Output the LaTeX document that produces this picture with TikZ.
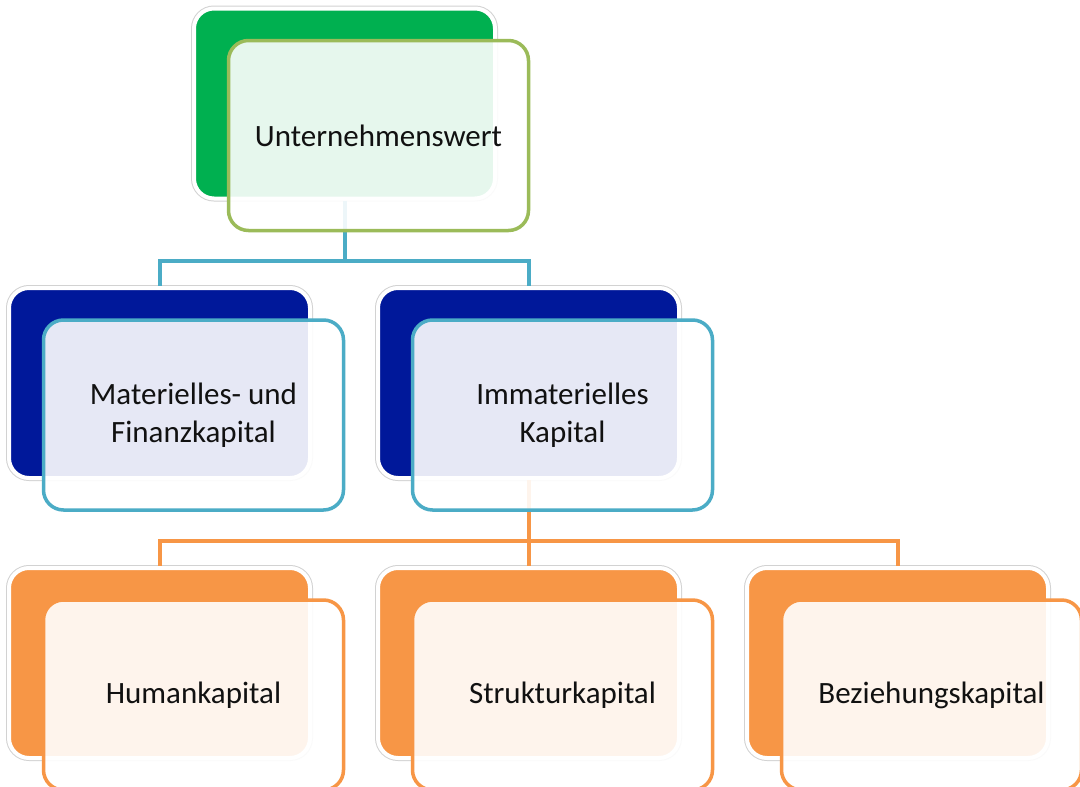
\documentclass[tikz,border=0pt]{standalone}
\usepackage{fontspec}
\setmainfont{Carlito}
\usetikzlibrary{calc}
\definecolor{cgreen}{HTML}{00B050}
\definecolor{cgreenb}{HTML}{9BBB59}
\definecolor{cnavy}{HTML}{00189A}
\definecolor{cblue}{HTML}{4BACC6}
\definecolor{corange}{HTML}{F79646}
\definecolor{ctext}{HTML}{111111}
\tikzset{
  backbox/.style={rectangle, rounded corners=20pt, minimum width=301pt, minimum height=190pt,
    fill=#1, draw=white, line width=4pt, preaction={draw=gray!35, line width=6pt}, inner sep=0pt},
  frontbox/.style={rectangle, rounded corners=20pt, minimum width=300pt, minimum height=190pt,
    fill=white, fill opacity=0.9, text opacity=1, draw=#1, draw opacity=1, line width=3.5pt,
    align=center, text=ctext, font=\fontsize{31}{38}\selectfont, inner sep=0pt},
  conn/.style={draw=#1, line width=4pt}
}
\begin{document}
\begin{tikzpicture}[x=1pt,y=-1pt]
\useasboundingbox (0,0) rectangle (1080,787);
\clip (0,0) rectangle (1080,787);
\fill[white] (0,0) rectangle (1080,787);
% back boxes
\node[backbox=cgreen] (bt) at (344.5,103.5) {};
\node[backbox=cnavy] (bm1) at (159.5,383) {};
\node[backbox=cnavy] (bm2) at (528.5,383) {};
\node[backbox=corange] (bb1) at (159.5,663) {};
\node[backbox=corange] (bb2) at (528.5,663) {};
\node[backbox=corange] (bb3) at (897.5,663) {};
% connectors
\draw[conn=cblue] (bt.south) -- ++(0,60) coordinate (jt) -| (bm1.north);
\draw[conn=cblue] (jt) -| (bm2.north);
\draw[conn=corange] (bm2.south) -- ++(0,61) coordinate (jm) -| (bb1.north);
\draw[conn=corange] (jm) -- (bb2.north);
\draw[conn=corange] (jm) -| (bb3.north);
% front boxes
\node[frontbox=cgreenb] (ft) at (378.5,135.5) {Unternehmenswert};
\node[frontbox=cblue] (fm1) at (193.5,415) {Materielles- und\\Finanzkapital};
\node[frontbox=cblue] (fm2) at (562.5,415) {Immaterielles\\Kapital};
\node[frontbox=corange] (fb1) at (193.5,695) {Humankapital};
\node[frontbox=corange] (fb2) at (562.5,695) {Strukturkapital};
\node[frontbox=corange] (fb3) at (931.5,695) {Beziehungskapital};
\end{tikzpicture}
\end{document}
